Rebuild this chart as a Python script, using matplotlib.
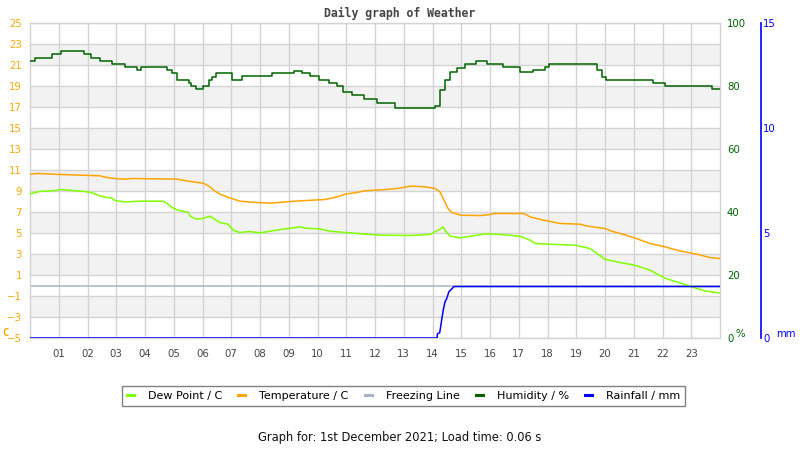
import matplotlib
matplotlib.use("Agg")
import matplotlib.pyplot as plt
from matplotlib.lines import Line2D

# ---------------- data ----------------
hours_ticks = list(range(1, 24))
hour_labels = [f"{h:02d}" for h in hours_ticks]
temp_ticks = list(range(-5, 26, 2))
hum_ticks = [0, 20, 40, 60, 80, 100]
rain_ticks = [0, 5, 10, 15]

temp_h = [0, 0.31, 0.97, 2.43, 2.61, 2.96, 3.23, 3.58, 5.11, 5.50, 5.77, 6.02, 6.26, 6.43,
          6.61, 6.85, 7.13, 7.30, 7.65, 8.35, 8.80, 9.39, 10.26, 10.68, 10.96, 11.30, 11.65,
          12.35, 12.87, 13.22, 13.74, 14.09, 14.26, 14.40, 14.54, 14.68, 14.96, 15.65, 16.00,
          16.14, 17.18, 17.39, 17.74, 18.09, 18.43, 19.13, 19.30, 19.48, 20.00, 20.24, 20.70,
          21.04, 21.57, 22.09, 22.61, 23.20, 23.65, 24.0]
temp_v = [10.61, 10.67, 10.58, 10.45, 10.32, 10.19, 10.13, 10.19, 10.13, 9.94, 9.84, 9.75, 9.40,
          8.98, 8.70, 8.44, 8.19, 8.03, 7.94, 7.84, 7.94, 8.06, 8.19, 8.44, 8.70, 8.83, 9.02,
          9.14, 9.27, 9.46, 9.40, 9.24, 8.92, 8.13, 7.33, 6.95, 6.70, 6.66, 6.76, 6.86, 6.86,
          6.54, 6.29, 6.10, 5.91, 5.84, 5.71, 5.62, 5.43, 5.17, 4.82, 4.52, 4.00, 3.68, 3.29,
          2.98, 2.66, 2.57]

dew_h = [0, 0.17, 0.35, 0.77, 1.08, 1.88, 2.12, 2.43, 2.61, 2.85, 2.96, 3.30, 3.83, 4.63, 4.77,
         4.94, 5.15, 5.50, 5.57, 5.77, 6.02, 6.26, 6.43, 6.61, 6.89, 7.06, 7.30, 7.65, 8.00,
         8.70, 9.39, 9.57, 10.09, 10.43, 11.13, 12.17, 13.22, 13.91, 14.26, 14.37, 14.47,
         14.61, 14.96, 15.48, 15.83, 16.35, 17.04, 17.39, 17.57, 18.09, 18.96, 19.48, 19.72,
         20.00, 20.52, 21.04, 21.57, 22.09, 22.61, 23.13, 23.48, 24.0]
dew_v = [8.70, 8.86, 8.96, 9.02, 9.14, 8.96, 8.86, 8.54, 8.41, 8.32, 8.09, 7.96, 8.03, 8.03, 7.81,
         7.43, 7.17, 6.98, 6.60, 6.32, 6.38, 6.60, 6.29, 6.00, 5.84, 5.27, 5.05, 5.14, 5.01,
         5.33, 5.58, 5.46, 5.39, 5.17, 5.01, 4.79, 4.76, 4.86, 5.36, 5.58, 5.11, 4.70, 4.54,
         4.76, 4.92, 4.86, 4.70, 4.32, 4.00, 3.93, 3.84, 3.52, 3.05, 2.50, 2.19, 1.93, 1.45,
         0.69, 0.25, -0.23, -0.52, -0.71]

hum_h = [0, 0.17, 0.77, 1.08, 1.88, 2.12, 2.43, 2.85, 3.30, 3.72, 3.86, 4.70, 4.77, 4.94, 5.11,
         5.53, 5.60, 5.77, 6.02, 6.23, 6.33, 6.47, 7.03, 7.39, 8.42, 9.18, 9.46, 9.74, 10.05,
         10.40, 10.68, 10.89, 11.20, 11.62, 12.07, 12.70, 14.07, 14.26, 14.43, 14.61, 14.85,
         15.13, 15.51, 15.90, 16.45, 17.04, 17.48, 17.91, 18.05, 19.58, 19.72, 19.90, 20.03,
         21.67, 22.09, 23.72, 24.0]
hum_v = [87.8, 88.9, 90.1, 91.0, 90.1, 88.9, 87.9, 87.0, 86.0, 85.1, 86.0, 86.0, 85.1, 84.0, 81.9,
         80.8, 80.0, 78.9, 80.0, 81.9, 82.9, 84.0, 81.9, 83.1, 84.0, 84.8, 84.0, 83.1, 81.9,
         80.8, 80.0, 78.0, 77.0, 75.8, 74.6, 73.0, 73.8, 78.7, 81.9, 84.5, 85.7, 86.9, 87.8,
         86.9, 85.9, 84.5, 85.0, 85.9, 86.9, 86.9, 85.1, 82.9, 81.9, 80.9, 79.9, 78.9, 78.9]

rain_h = [0, 14.16, 14.17, 14.25, 14.37, 14.43, 14.50, 14.57, 14.75, 24.0]
rain_v = [0, 0, 0.2, 0.25, 1.3, 1.7, 1.9, 2.2, 2.45, 2.45]

freeze_h = [0, 24]
freeze_v = [0, 0]

# ---------------- style ----------------
C_TEMP = "#FFA500"
C_DEW = "#7FFF00"
C_FREEZE = "#A8B4C8"
C_HUM = "#006400"
C_RAIN = "#0000FF"
GRID = "#D3D3D3"
BAND = "#F2F2F2"
FS = 7.3

plt.rcParams["font.family"] = ["DejaVu Sans"]
fig = plt.figure(figsize=(8, 4.5), dpi=100)
ax = fig.add_axes([30 / 800, 1 - 338 / 450, 690 / 800, 315 / 450])

ax.set_xlim(0, 24)
ax.set_ylim(-5, 25)

# alternating bands
for lo in range(-3, 25, 4):
    ax.axhspan(lo, lo + 2, color=BAND, zorder=0, lw=0)
for y in temp_ticks:
    ax.axhline(y, color=GRID, lw=1, zorder=0.5)
for h in hours_ticks:
    ax.axvline(h, color=GRID, lw=1, zorder=0.5)

for s in ax.spines.values():
    s.set_color(GRID)
    s.set_linewidth(1)

ax.set_xticks(hours_ticks)
ax.set_xticklabels(hour_labels)
ax.tick_params(axis="x", length=0, pad=8, labelsize=FS, labelcolor="#444444")
ax.set_yticks(temp_ticks)
ax.tick_params(axis="y", length=0, pad=5.8, labelsize=FS, labelcolor=C_TEMP)

ax.plot(freeze_h, freeze_v, color=C_FREEZE, lw=1.1, zorder=2)
ax.plot(dew_h, dew_v, color=C_DEW, lw=1.1, zorder=3)
ax.plot(temp_h, temp_v, color=C_TEMP, lw=1.1, zorder=3)

# humidity axis
axh = ax.twinx()
axh.set_ylim(0, 100)
axh.set_yticks(hum_ticks)
axh.tick_params(axis="y", length=0, pad=5, labelsize=FS, labelcolor=C_HUM)
for s in axh.spines.values():
    s.set_visible(False)
axh.plot(hum_h, hum_v, color=C_HUM, lw=1.1, drawstyle="steps-post")

# rain axis
axr = ax.twinx()
axr.set_ylim(0, 15)
axr.set_yticks(rain_ticks)
for k, s in axr.spines.items():
    s.set_visible(k == "right")
axr.spines["right"].set_position(("axes", (761 - 30) / 690))
axr.spines["right"].set_color(C_RAIN)
axr.spines["right"].set_linewidth(1.2)
axr.tick_params(axis="y", length=0, pad=1.5, labelsize=FS, labelcolor=C_RAIN)
axr.plot(rain_h, rain_v, color=C_RAIN, lw=1.1)

# unit labels
fig.text(2 / 800, 1 - 333 / 450, "C", color=C_TEMP, fontsize=7.5, fontweight="bold",
         family="DejaVu Sans Mono", va="center", ha="left")
fig.text(735 / 800, 1 - 334 / 450, "%", color=C_HUM, fontsize=FS, va="center", ha="left")
fig.text(776 / 800, 1 - 334 / 450, "mm", color=C_RAIN, fontsize=FS, va="center", ha="left")

fig.text(0.5, 1 - 13 / 450, "Daily graph of Weather", ha="center", va="center",
         family="DejaVu Sans Mono", fontweight="bold", fontsize=8.3, color="#444444")

handles = [Line2D([], [], color=C_DEW, lw=2.2), Line2D([], [], color=C_TEMP, lw=2.2),
           Line2D([], [], color=C_FREEZE, lw=2.2), Line2D([], [], color=C_HUM, lw=2.2),
           Line2D([], [], color=C_RAIN, lw=2.2)]
labels = ["Dew Point / C", "Temperature / C", "Freezing Line", "Humidity / %", "Rainfall / mm"]
leg = fig.legend(handles, labels, loc="center", bbox_to_anchor=(403.5 / 800, 1 - 396 / 450),
                 ncol=5, fontsize=8, handlelength=0.65, handletextpad=1.25, columnspacing=1.45,
                 fancybox=False, framealpha=1, edgecolor="#808080", borderpad=0.45,
                 borderaxespad=0)
leg.get_frame().set_linewidth(1)

fig.text(0.5, 1 - 437 / 450, "Graph for: 1st December 2021; Load time: 0.06 s", ha="center",
         va="center", fontsize=8.3, color="#111111")

fig.savefig("out.png", dpi=100)
